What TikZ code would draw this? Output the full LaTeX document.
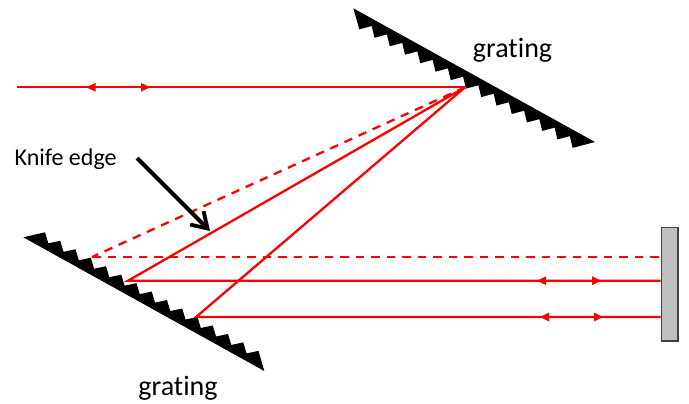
\documentclass[tikz,border=0pt]{standalone}
\usepackage{fontspec}
\setmainfont[RawFeature={-liga;-clig}]{Carlito}
\usetikzlibrary{arrows.meta}
\definecolor{beam}{RGB}{255,0,0}
\tikzset{
  x=1bp,y=-1bp,
  beamline/.style={draw=beam,line width=2.3bp,line join=miter},
  beamdash/.style={draw=beam,line width=2.3bp,dash pattern=on 8.5bp off 7bp},
  gratinglabel/.style={inner sep=0pt,anchor=base,font=\fontsize{28bp}{30bp}\selectfont},
  knifelabel/.style={inner sep=0pt,anchor=base west,font=\fontsize{24bp}{26bp}\selectfont},
  mirrorbox/.style={draw=black!75,fill=black!25,line width=1.6bp},
  pointer/.style={draw=black,line width=4bp,-{Straight Barb[length=15bp,width=19bp,line width=3.8bp]}},
  tipleft/.pic={\fill[beam] (0,0) -- (9,-4.4) -- (9,4.4) -- cycle;},
  tipright/.pic={\fill[beam] (0,0) -- (-9,-4.4) -- (-9,4.4) -- cycle;},
}
\begin{document}
\begin{tikzpicture}
\useasboundingbox (0,0) rectangle (689,403);
% gratings
\fill[black] (353.3,8.3)
  \foreach \k in {0,...,14}{ -- ({359.3+15.24*\k},{29.3+8.47*\k}) \ifnum\k<14 -- ({371.7+15.24*\k},{26+8.47*\k})\fi }
  -- (595,142) -- cycle;
\fill[black] (23.3,237.3)
  \foreach \k in {0,...,14}{ -- ({45+15.25*\k},{232.3+8.47*\k}) \ifnum\k<14 -- ({48.3+15.25*\k},{243.3+8.47*\k})\fi }
  -- (264.3,371) -- cycle;
% mirror
\node[mirrorbox,minimum width=16.6bp,minimum height=113.3bp,inner sep=0pt,anchor=north west] (mir) at (660.7,226.7) {};
% points
\coordinate (src) at (17,87.3);
\coordinate (hit) at (465,87.3);
\coordinate (g1) at (92,257);
\coordinate (g2) at (128,280.7);
\coordinate (g3) at (196,317);
\coordinate (m1) at (mir.west |- g1);
\coordinate (m2) at (mir.west |- g2);
\coordinate (m3) at (mir.west |- g3);
% rays
\draw[beamline] (src) -- (hit);
\draw[beamline] (hit) -- (g2) -- (m2);
\draw[beamline] (hit) -- (g3) -- (m3);
\draw[beamdash] (hit) -- (g1);
\draw[beamdash] (g1) -- (m1);
% direction marks
\pic at (86.5,87.3) {tipleft};
\pic at (150,87.3) {tipright};
\pic at (537,280.7) {tipleft};
\pic at (601,280.7) {tipright};
\pic at (540,317) {tipleft};
\pic at (603,317) {tipright};
% knife edge pointer
\coordinate (ks) at (137,158);
\coordinate (ke) at (210,231);
\draw[pointer] (ks) -- (ke);
% labels
\node[knifelabel] (knife) at (14.5,165) {Knife edge};
\node[gratinglabel] (gt) at (512.5,57) {grating};
\node[gratinglabel] (gb) at (178,395) {grating};
\end{tikzpicture}
\end{document}
